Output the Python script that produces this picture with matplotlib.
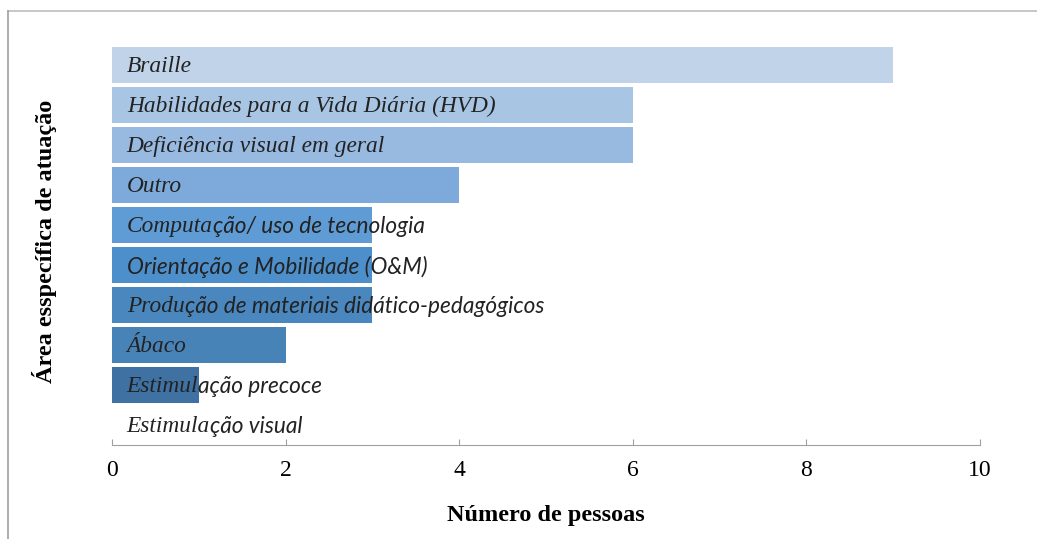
import matplotlib
matplotlib.use("Agg")
import matplotlib.pyplot as plt
from matplotlib.lines import Line2D
from matplotlib.transforms import offset_copy

# dados
categorias = [
    "Braille",
    "Habilidades para a Vida Diária (HVD)",
    "Deficiência visual em geral",
    "Outro",
    "Computação/ uso de tecnologia",
    "Orientação e Mobilidade (O&M)",
    "Produção de materiais didático-pedagógicos",
    "Ábaco",
    "Estimulação precoce",
    "Estimulação visual",
]
valores = [9, 6, 6, 4, 3, 3, 3, 2, 1, 0]
# quantos caracteres de cada rótulo saem em fonte serifada (o resto em sans)
corte_serif = [7, 36, 27, 5, 7, 0, 5, 5, 7, 8]
cores = ["#C0D3E8", "#A9C5E4", "#98B9E0", "#7EAADB", "#5F9BD4",
         "#4D8FCB", "#4A87BF", "#4883B7", "#3F72A3", "#3A6A99"]
xticks = [0, 2, 4, 6, 8, 10]

SERIF = "Liberation Serif"
SANS = ["Lato", "Open Sans", "DejaVu Sans"]

fig = plt.figure(figsize=(10.37, 5.39), dpi=100)
ax = fig.add_axes([112 / 1037, 1 - 445 / 539, (980 - 112) / 1037, 400 / 539])

pos = list(range(len(categorias)))
ax.barh(pos, valores, height=0.9, color=cores, edgecolor="none")
ax.set_ylim(len(categorias) - 0.5, -0.5)
ax.set_xlim(0, 10)

for s in ["top", "right", "left"]:
    ax.spines[s].set_visible(False)
ax.spines["bottom"].set_color("#A0A0A0")
ax.set_yticks([])
ax.set_xticks(xticks)
ax.set_xticklabels([str(t) for t in xticks], fontfamily=SERIF, fontsize=17)
ax.tick_params(axis="x", direction="in", length=4, color="#A0A0A0", pad=11)
ax.set_xlabel("Número de pessoas", fontfamily=SERIF, fontsize=17.5,
              fontweight="bold", labelpad=17)

fig.text(45 / 1037, 1 - 241 / 539, "Área esspecífica de atuação", rotation=90,
         ha="center", va="center", fontfamily=SERIF, fontsize=17.5,
         fontweight="bold")

# rótulos em fonte mista (serif + sans), como no original
renderer = fig.canvas.get_renderer()
for i, nome in enumerate(categorias):
    k = corte_serif[i]
    partes = [(nome[:k], SERIF), (nome[k:], SANS)]
    x0 = 0.17
    dx = 0
    for txt, fam in partes:
        if not txt:
            continue
        t = ax.text(x0, i + 0.04, txt, fontfamily=fam, fontstyle="italic",
                    fontsize=16.8 if fam == SERIF else 16.3, color="#222222",
                    va="center", ha="left",
                    transform=offset_copy(ax.transData, fig=fig, x=dx, y=0,
                                          units="dots"))
        bb = t.get_window_extent(renderer=renderer)
        dx += bb.width

# moldura cinza
fig.add_artist(Line2D([8 / 1037, 1], [1 - 11 / 539, 1 - 11 / 539],
                      transform=fig.transFigure, color="#BDBDBD", lw=1.2))
fig.add_artist(Line2D([8 / 1037, 8 / 1037], [0, 1 - 11 / 539],
                      transform=fig.transFigure, color="#A0A0A0", lw=1.2))

fig.savefig("out.png", dpi=100)
